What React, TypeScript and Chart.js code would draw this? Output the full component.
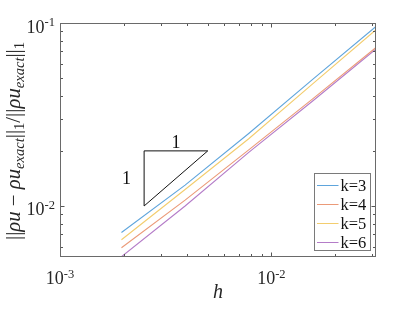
import React, { useEffect, useRef } from "react";
import { Chart, registerables } from "chart.js";

Chart.register(...registerables);

// ---- data ----
const hValues = [1 / 512, 1 / 256, 1 / 128, 1 / 64, 1 / 32];
const seriesLabels = ["k=3", "k=4", "k=5", "k=6"];
const errK3 = [0.00716, 0.013, 0.0249, 0.049, 0.0958];
const errK4 = [0.00591, 0.01076, 0.02025, 0.03834, 0.0735];
const errK5 = [0.00654, 0.0123, 0.0233, 0.04636, 0.0919];
const errK6 = [0.00528, 0.01, 0.01963, 0.03733, 0.0721];
const seriesColors = ["#5FA5DC", "#EB9A78", "#F3CD6E", "#B47CC8"];
const triangleX = [0.0025, 0.0025, 0.005, 0.0025];
const triangleY = [0.01, 0.02, 0.02, 0.01];
const xRange = [0.001, 0.03125];
const yRange = [0.00526, 0.1];
const xMajorExps = [-3, -2];
const yMajorExps = [-2, -1];
const xMinorTicks = [0.002, 0.003, 0.004, 0.005, 0.006, 0.007, 0.008, 0.009, 0.02, 0.03];
const yMinorTicks = [0.006, 0.007, 0.008, 0.009, 0.02, 0.03, 0.04, 0.05, 0.06, 0.07, 0.08, 0.09];

const SERIF = '"Liberation Serif", "Times New Roman", serif';

type Run = { t: string; italic?: boolean; size: number; dy: number };

function runsWidth(ctx: CanvasRenderingContext2D, runs: Run[]) {
  let w = 0;
  for (const r of runs) {
    ctx.font = `${r.italic ? "italic " : ""}${r.size}px ${SERIF}`;
    w += ctx.measureText(r.t).width;
  }
  return w;
}

function drawRuns(ctx: CanvasRenderingContext2D, runs: Run[], x: number, y: number, align: "left" | "center" | "right") {
  const w = runsWidth(ctx, runs);
  let cx = align === "left" ? x : align === "center" ? x - w / 2 : x - w;
  ctx.textAlign = "left";
  ctx.textBaseline = "alphabetic";
  for (const r of runs) {
    ctx.font = `${r.italic ? "italic " : ""}${r.size}px ${SERIF}`;
    ctx.fillText(r.t, cx, y + r.dy);
    cx += ctx.measureText(r.t).width;
  }
}

const matlabPlugin = {
  id: "matlabAxes",
  afterDatasetsDraw(chart: any) {
    const { ctx, chartArea: a, scales } = chart;
    const xs = scales.x;
    const ys = scales.y;
    ctx.save();
    const L = Math.round(a.left) + 0.5;
    const R = Math.round(a.right) - 0.5;
    const T = Math.round(a.top) + 0.5;
    const B = Math.round(a.bottom) - 0.5;

    // ticks
    ctx.strokeStyle = "#555";
    ctx.lineWidth = 1;
    ctx.beginPath();
    const xt = [...xMajorExps.map((e) => ({ v: Math.pow(10, e), len: 4 })), ...xMinorTicks.map((v) => ({ v, len: 2.5 }))];
    for (const t of xt) {
      const px = Math.round(xs.getPixelForValue(t.v)) + 0.5;
      if (px < L || px > R + 1) continue;
      ctx.moveTo(px, B);
      ctx.lineTo(px, B - t.len);
      ctx.moveTo(px, T);
      ctx.lineTo(px, T + t.len);
    }
    const yt = [...yMajorExps.map((e) => ({ v: Math.pow(10, e), len: 4 })), ...yMinorTicks.map((v) => ({ v, len: 2.5 }))];
    for (const t of yt) {
      const py = Math.round(ys.getPixelForValue(t.v)) + 0.5;
      if (py < T - 1 || py > B + 1) continue;
      ctx.moveTo(L, py);
      ctx.lineTo(L + t.len, py);
      ctx.moveTo(R, py);
      ctx.lineTo(R - t.len, py);
    }
    ctx.stroke();

    // box
    ctx.strokeStyle = "#6a6a6a";
    ctx.strokeRect(L, T, R - L, B - T);

    // tick labels
    ctx.fillStyle = "#262626";
    for (const e of xMajorExps) {
      const px = xs.getPixelForValue(Math.pow(10, e));
      drawRuns(ctx, [
        { t: "10", size: 18, dy: 0 },
        { t: String(e), size: 12.5, dy: -6.5 },
      ], px, 284, "center");
    }
    for (const e of yMajorExps) {
      const py = ys.getPixelForValue(Math.pow(10, e));
      drawRuns(ctx, [
        { t: "10", size: 18, dy: 0 },
        { t: String(e), size: 12.5, dy: -6.5 },
      ], 55, py + 9.5, "right");
    }

    // x title
    drawRuns(ctx, [{ t: "h", italic: true, size: 20, dy: 0 }], (a.left + a.right) / 2, 298, "center");

    // y title
    const S = 20;
    const s = 14;
    const yRuns: Run[] = [
      { t: "||", size: S, dy: 0 },
      { t: "ρu", italic: true, size: S, dy: 0 },
      { t: " − ", size: S, dy: 0 },
      { t: "ρu", italic: true, size: S, dy: 0 },
      { t: "exact", italic: true, size: s, dy: 4 },
      { t: "||", size: S, dy: 0 },
      { t: "1", size: s, dy: 4 },
      { t: "/", size: S, dy: 0 },
      { t: "||", size: S, dy: 0 },
      { t: "ρu", italic: true, size: S, dy: 0 },
      { t: "exact", italic: true, size: s, dy: 4 },
      { t: "||", size: S, dy: 0 },
      { t: "1", size: s, dy: 4 },
    ];
    ctx.save();
    ctx.translate(20, 141);
    ctx.rotate(-Math.PI / 2);
    const w = runsWidth(ctx, yRuns);
    const k = 198 / w;
    ctx.scale(k, 1);
    drawRuns(ctx, yRuns, 0, 0, "center");
    ctx.restore();

    // slope triangle labels
    ctx.fillStyle = "#111";
    const tx1 = xs.getPixelForValue(Math.sqrt(triangleX[1] * triangleX[2]));
    const ty1 = ys.getPixelForValue(triangleY[1]);
    drawRuns(ctx, [{ t: "1", size: 18, dy: 0 }], tx1, ty1 - 3, "center");
    const tx2 = xs.getPixelForValue(triangleX[0]);
    const ty2 = ys.getPixelForValue(Math.sqrt(triangleY[0] * triangleY[1]));
    drawRuns(ctx, [{ t: "1", size: 18, dy: 0 }], tx2 - 13, ty2 + 6, "right");

    // legend
    const lw = 56;
    const lh = 77;
    const lx = Math.round(a.right - 6 - lw) + 0.5;
    const ly = Math.round(a.bottom - 7 - lh) + 0.5;
    ctx.fillStyle = "#fff";
    ctx.fillRect(lx, ly, lw, lh);
    ctx.strokeStyle = "#7a7a7a";
    ctx.strokeRect(lx, ly, lw, lh);
    chart.data.datasets.forEach((ds: any, i: number) => {
      if (!ds.label) return;
      const cy = ly + 11.5 + i * 19;
      ctx.strokeStyle = ds.borderColor;
      ctx.lineWidth = 1;
      ctx.beginPath();
      ctx.moveTo(lx + 2.5, Math.round(cy) + 0.5);
      ctx.lineTo(lx + 24, Math.round(cy) + 0.5);
      ctx.stroke();
      ctx.fillStyle = "#111";
      drawRuns(ctx, [{ t: ds.label, size: 16.5, dy: 0 }], lx + 26, cy + 5.5, "left");
    });
    ctx.restore();
  },
};

export default function App() {
  const ref = useRef<HTMLCanvasElement | null>(null);
  useEffect(() => {
    if (!ref.current) return;
    const series = [errK3, errK4, errK5, errK6];
    const datasets: any[] = series.map((vals, i) => ({
      label: seriesLabels[i],
      data: hValues.map((h, j) => ({ x: h, y: vals[j] })),
      borderColor: seriesColors[i],
      borderWidth: 1.1,
      pointRadius: 0,
      fill: false,
      tension: 0,
    }));
    datasets.push({
      label: "",
      data: triangleX.map((xv, j) => ({ x: xv, y: triangleY[j] })),
      borderColor: "#111",
      borderWidth: 1,
      pointRadius: 0,
      fill: false,
      tension: 0,
    });
    const chart = new Chart(ref.current, {
      type: "line",
      data: { datasets },
      options: {
        animation: false,
        responsive: false,
        devicePixelRatio: 1,
        layout: { padding: { left: 60, top: 23, right: 39, bottom: 55 } },
        plugins: { legend: { display: false }, tooltip: { enabled: false } },
        scales: {
          x: { type: "logarithmic", min: xRange[0], max: xRange[1], display: false },
          y: { type: "logarithmic", min: yRange[0], max: yRange[1], display: false },
        },
      },
      plugins: [matlabPlugin],
    });
    return () => chart.destroy();
  }, []);
  return (
    <div style={{ position: "fixed", left: 0, top: 0, width: 415, height: 312, background: "#fff" }}>
      <canvas ref={ref} width={415} height={312} style={{ width: 415, height: 312, display: "block" }} />
    </div>
  );
}
